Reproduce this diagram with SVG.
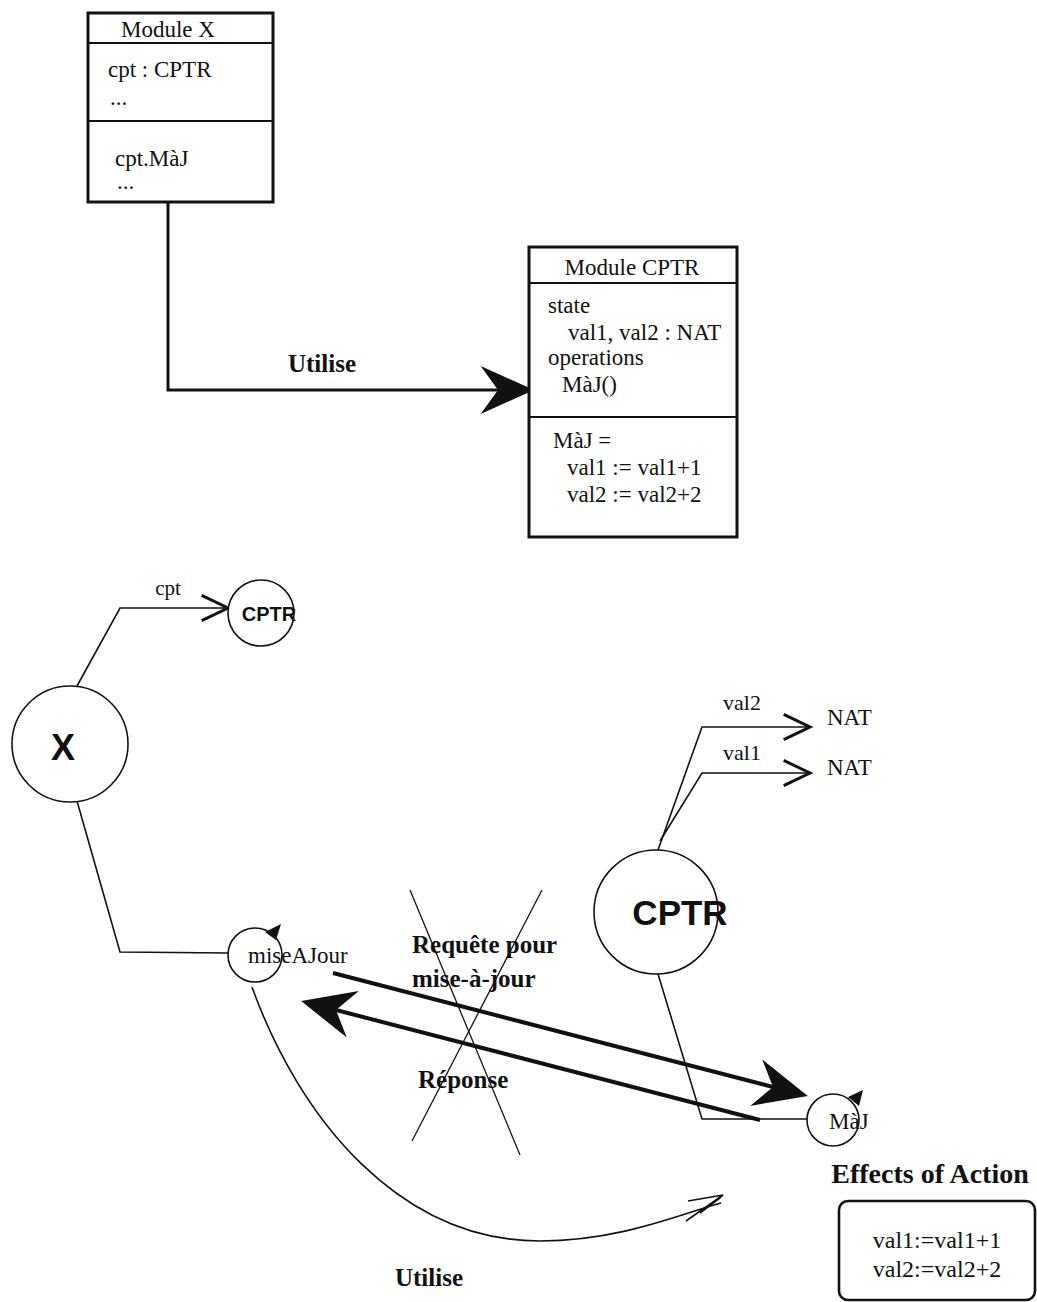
<svg xmlns="http://www.w3.org/2000/svg" width="1037" height="1302" viewBox="0 0 1037 1302">
<defs>
<style>
.t{font-family:"Liberation Serif","Times New Roman",serif;font-size:23px;fill:#111}
.b{font-family:"Liberation Serif","Times New Roman",serif;font-weight:bold;font-size:25px;fill:#111}
.s{font-family:"Liberation Sans",Arial,sans-serif;font-weight:bold;fill:#111}
.box{fill:#fff;stroke:#111;stroke-width:3}
.div{stroke:#111;stroke-width:2}
.c{fill:#fff;stroke:#111;stroke-width:1.6}
.thin{fill:none;stroke:#111;stroke-width:1.6}
.thick{fill:none;stroke:#111;stroke-width:4}
</style>
<marker id="big" markerUnits="userSpaceOnUse" orient="auto" refX="0" refY="0" markerWidth="80" markerHeight="80" viewBox="-20 -25 60 50" overflow="visible">
<path d="M-13,-18 L27,0 L-13,18 L0,0 Z" fill="#111"/>
</marker>
<marker id="open" markerUnits="userSpaceOnUse" orient="auto" refX="0" refY="0" markerWidth="40" markerHeight="40" viewBox="-30 -15 35 30" overflow="visible">
<path d="M-23,-11 L0,0 L-23,11" fill="none" stroke="#111" stroke-width="2.6"/>
</marker>
</defs>
<rect width="1037" height="1302" fill="#fff"/>

<g id="connectors">
<polyline class="thin" points="168,202 168,390 498,390" style="stroke-width:3" marker-end="url(#big)"/>
<polyline class="thin" points="77,686 120,608 228,608" marker-end="url(#open)"/>
<polyline class="thin" points="77,801 120,952 228,953"/>
<polyline class="thin" points="658,850 702,727 810,727" marker-end="url(#open)"/>
<polyline class="thin" points="660,841 702,773 810,773" marker-end="url(#open)"/>
<polyline class="thin" points="658,974 702,1119 808,1119"/>
<line class="thick" x1="333" y1="973" x2="773" y2="1087" marker-end="url(#big)"/>
<line class="thick" x1="760" y1="1120" x2="336" y2="1010" marker-end="url(#big)"/>
<path class="thin" d="M252,987 C300,1120 400,1241 540,1241 C620,1241 680,1214 721,1203"/>
<polyline class="thin" points="688,1201 723,1195 686,1221"/>
<polyline class="thin" points="700,1213 721,1197"/>
<line class="thin" style="stroke-width:1.3" x1="410" y1="890" x2="520" y2="1155"/>
<line class="thin" style="stroke-width:1.3" x1="542" y1="890" x2="412" y2="1141"/>
</g>

<g id="module-x">
<rect class="box" x="88" y="13" width="185" height="189"/>
<line class="div" x1="88" y1="43" x2="273" y2="43"/>
<line class="div" x1="88" y1="121" x2="273" y2="121"/>
<text class="t" x="168" y="37" text-anchor="middle">Module X</text>
<text class="t" x="108" y="77">cpt : CPTR</text>
<text class="t" x="110" y="105">...</text>
<text class="t" x="115" y="166">cpt.MàJ</text>
<text class="t" x="117" y="189">...</text>
</g>

<g id="module-cptr">
<rect class="box" x="529" y="247" width="208" height="290"/>
<line class="div" x1="529" y1="283" x2="737" y2="283"/>
<line class="div" x1="529" y1="417" x2="737" y2="417"/>
<text class="t" x="632" y="275" text-anchor="middle">Module CPTR</text>
<text class="t" x="548" y="313">state</text>
<text class="t" x="568" y="340">val1, val2 : NAT</text>
<text class="t" x="548" y="365">operations</text>
<text class="t" x="562" y="392">MàJ()</text>
<text class="t" x="553" y="448">MàJ =</text>
<text class="t" x="567" y="475">val1 := val1+1</text>
<text class="t" x="567" y="502">val2 := val2+2</text>
</g>

<text id="label-utilise-top" class="b" x="322" y="372" text-anchor="middle">Utilise</text>

<g id="cptr-small">
<circle class="c" cx="261" cy="613" r="33"/>
<text class="s" x="269" y="621" text-anchor="middle" style="font-size:20px">CPTR</text>
</g>
<text id="label-cpt" class="t" x="168" y="595" text-anchor="middle" style="font-size:21px">cpt</text>

<g id="x-node">
<circle class="c" cx="70" cy="744" r="58"/>
<text class="s" x="63" y="760" text-anchor="middle" style="font-size:36px">X</text>
</g>

<g id="cptr-big">
<circle class="c" cx="656" cy="912" r="62"/>
<text class="s" x="680" y="925" text-anchor="middle" style="font-size:35px">CPTR</text>
</g>
<text class="t" x="742" y="710" text-anchor="middle" style="font-size:22px">val2</text>
<text class="t" x="742" y="760" text-anchor="middle" style="font-size:22px">val1</text>
<g id="nat2"><text class="t" x="827" y="725">NAT</text></g>
<g id="nat1"><text class="t" x="827" y="775">NAT</text></g>

<g id="miseajour">
<circle class="c" cx="255" cy="955" r="27"/>
<polygon points="265,932 281,924 276,940" fill="#111"/>
<text class="t" x="248" y="963">miseAJour</text>
</g>

<g id="maj">
<circle class="c" cx="833" cy="1120" r="26"/>
<polygon points="848,1097 863,1090 859,1106" fill="#111"/>
<text class="t" x="829" y="1129">MàJ</text>
</g>

<text class="b" x="412" y="953">Requête pour</text>
<text class="b" x="412" y="987">mise-à-jour</text>
<text class="b" x="418" y="1088">Réponse</text>
<text class="b" x="429" y="1286" text-anchor="middle">Utilise</text>

<g id="effects">
<text class="b" x="930" y="1183" text-anchor="middle" style="font-size:28px">Effects of Action</text>
<rect x="839" y="1201" width="196" height="99" rx="9" fill="#fff" stroke="#111" stroke-width="2.6"/>
<text class="t" x="937" y="1248" text-anchor="middle" style="font-size:24px">val1:=val1+1</text>
<text class="t" x="937" y="1277" text-anchor="middle" style="font-size:24px">val2:=val2+2</text>
</g>
</svg>
